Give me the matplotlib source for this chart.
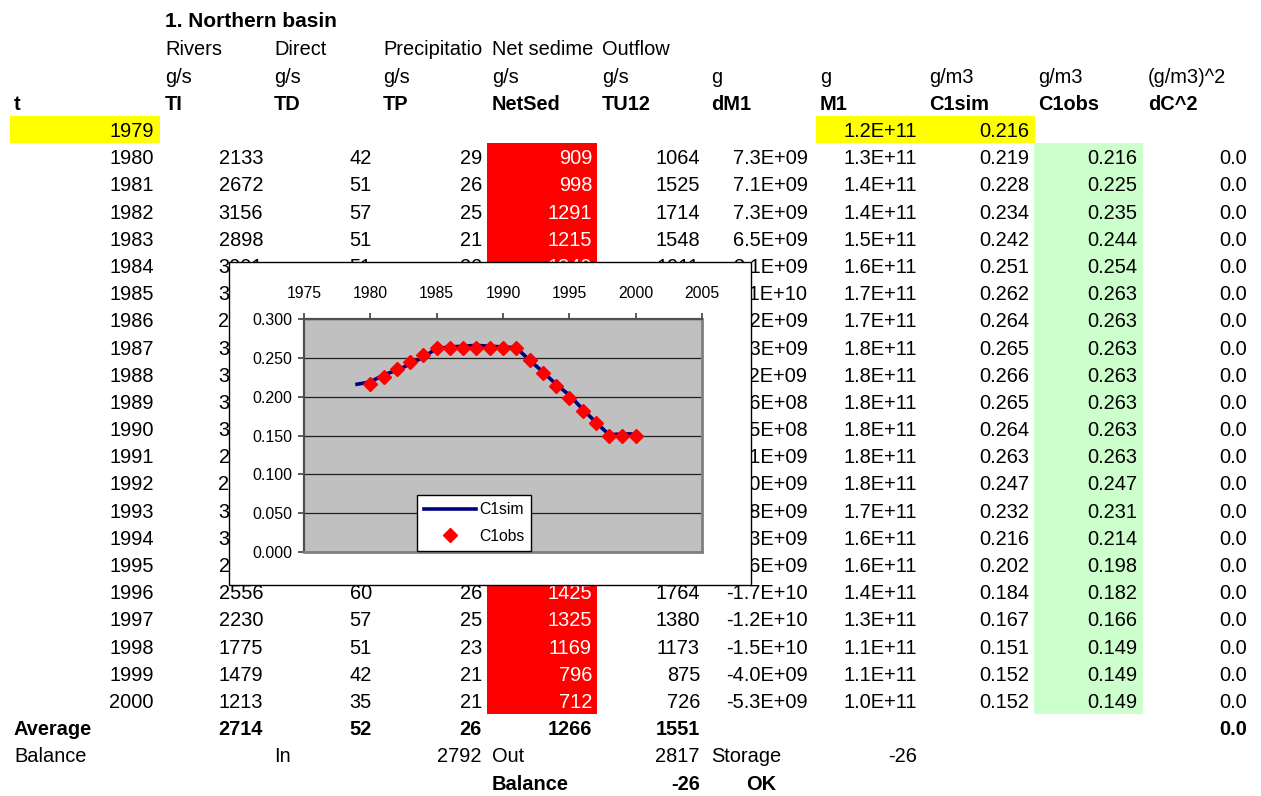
import matplotlib.pyplot as plt
from matplotlib.patches import Rectangle
from matplotlib.transforms import Bbox, TransformedBbox

plt.rcParams['font.family'] = ['Liberation Sans', 'DejaVu Sans']

# Northern basin mass balance, 1979-2000
years = list(range(1979, 2001))
TI = [2133, 2672, 3156, 2898, 3001, 3612, 2874, 3505, 3190, 3268, 3052,
      2799, 2641, 3187, 3096, 2657, 2556, 2230, 1775, 1479, 1213]
TD = [42, 51, 57, 51, 51, 55, 50, 56, 54, 57, 55, 52, 49, 58, 56, 53,
      60, 57, 51, 42, 35]
TP = [29, 26, 25, 21, 22, 28, 27, 30, 29, 28, 31, 27, 26, 29, 27, 25,
      26, 25, 23, 21, 21]
NetSed = [909, 998, 1291, 1215, 1349, 1452, 1338, 1490, 1415, 1463, 1387,
          1302, 1256, 1438, 1446, 1410, 1425, 1325, 1169, 796, 712]
TU12 = [1064, 1525, 1714, 1548, 1911, 1877, 1590, 1865, 1779, 1830, 1711,
        1524, 1426, 1741, 1828, 1720, 1764, 1380, 1173, 875, 726]
dM1 = [7.3e9, 7.1e9, 7.3e9, 6.5e9, 3.1e9, 1.1e10, 5.2e9, 2.3e9, 1.2e9,
       -4.6e8, -3.5e8, -2.1e9, -9.0e9, -8.8e9, -8.3e9, -7.6e9, -1.7e10,
       -1.2e10, -1.5e10, -4.0e9, -5.3e9]
M1 = [1.2e11, 1.3e11, 1.4e11, 1.4e11, 1.5e11, 1.6e11, 1.7e11, 1.7e11,
      1.8e11, 1.8e11, 1.8e11, 1.8e11, 1.8e11, 1.8e11, 1.7e11, 1.6e11,
      1.6e11, 1.4e11, 1.3e11, 1.1e11, 1.1e11, 1.0e11]
C1sim = [0.216, 0.219, 0.228, 0.234, 0.242, 0.251, 0.262, 0.264, 0.265,
         0.266, 0.265, 0.264, 0.263, 0.247, 0.232, 0.216, 0.202, 0.184,
         0.167, 0.151, 0.152, 0.152]
C1obs = [0.216, 0.225, 0.235, 0.244, 0.254, 0.263, 0.263, 0.263, 0.263,
         0.263, 0.263, 0.263, 0.247, 0.231, 0.214, 0.198, 0.182, 0.166,
         0.149, 0.149, 0.149]

bal_in = 2792
bal_out = 2817
storage = -26
balance = -26

W, H = 1261, 796
fig = plt.figure(figsize=(W / 100, H / 100), dpi=100)

# sheet layer in pixel coordinates
ax = fig.add_axes([0, 0, 1, 1])
ax.set_xlim(0, W)
ax.set_ylim(H, 0)
ax.axis('off')

FS = 14.4
ROW_H = 27.19


def base(i):
    return 137 + ROW_H * (i - 4)


def cell(x, i, s, ha='right', bold=False, color='black', clip=None, fs=FS):
    t = ax.text(x, base(i), s, ha=ha, va='baseline', fontsize=fs,
                fontweight='bold' if bold else 'normal', color=color)
    if clip is not None:
        bb = Bbox([[clip[0], base(i) - 22], [clip[1], base(i) + 6]])
        t.set_clip_box(TransformedBbox(bb, ax.transData))
        t.set_clip_on(True)
    return t


def fill(x0, x1, i0, i1, color):
    y0 = base(i0) - 21
    y1 = base(i1) + 6
    ax.add_patch(Rectangle((x0, y0), x1 - x0, y1 - y0, facecolor=color,
                           edgecolor='none', zorder=0))


# cell fills
fill(10, 160, 4, 4, '#FFFF00')
fill(816, 1035, 4, 4, '#FFFF00')
fill(487, 597, 5, 25, '#FF0000')
fill(1034, 1143, 5, 25, '#CCFFCC')

# column anchors
right = [154, 263, 372, 482, 592, 700, 808, 917, 1029, 1137, 1247]
left = [14, 165, 274, 383, 492, 602, 711, 820, 929, 1038, 1148]

ax.text(165, 27, '1. Northern basin', ha='left', va='baseline',
        fontsize=15, fontweight='bold')

cell(left[1], 1, 'Rivers', ha='left')
cell(left[2], 1, 'Direct', ha='left')
cell(left[3], 1, 'Precipitatio', ha='left', clip=(380, 487))
cell(left[4], 1, 'Net sedime', ha='left', clip=(487, 597))
cell(left[5], 1, 'Outflow', ha='left')

units = ['g/s', 'g/s', 'g/s', 'g/s', 'g/s', 'g', 'g', 'g/m3', 'g/m3',
         '(g/m3)^2']
for k, u in enumerate(units):
    cell(left[k + 1], 2, u, ha='left')

names = ['t', 'TI', 'TD', 'TP', 'NetSed', 'TU12', 'dM1', 'M1', 'C1sim',
         'C1obs', 'dC^2']
for k, n in enumerate(names):
    cell(left[k], 3, n, ha='left', bold=True)

# first year: initial mass and concentration
cell(right[0], 4, str(years[0]))
cell(right[7], 4, f'{M1[0]:.1E}')
cell(right[8], 4, f'{C1sim[0]:.3f}')

for j in range(len(TI)):
    i = 5 + j
    cell(right[0], i, str(years[j + 1]))
    cell(right[1], i, str(TI[j]))
    cell(right[2], i, str(TD[j]))
    cell(right[3], i, str(TP[j]))
    cell(right[4], i, str(NetSed[j]), color='white')
    cell(right[5], i, str(TU12[j]))
    cell(right[6], i, f'{dM1[j]:.1E}')
    cell(right[7], i, f'{M1[j + 1]:.1E}')
    cell(right[8], i, f'{C1sim[j + 1]:.3f}')
    cell(right[9], i, f'{C1obs[j]:.3f}')
    cell(right[10], i, f'{(C1sim[j + 1] - C1obs[j]) ** 2:.1f}')

n = len(TI)
dc2 = [(C1sim[j + 1] - C1obs[j]) ** 2 for j in range(n)]
cell(left[0], 26, 'Average', ha='left', bold=True)
for k, col in enumerate([TI, TD, TP, NetSed, TU12]):
    cell(right[k + 1], 26, f'{sum(col) / n:.0f}', bold=True)
cell(right[10], 26, f'{sum(dc2) / n:.1f}', bold=True)

cell(left[0], 27, 'Balance', ha='left')
cell(left[2], 27, 'In', ha='left')
cell(right[3], 27, str(bal_in))
cell(left[4], 27, 'Out', ha='left')
cell(right[5], 27, str(bal_out))
cell(left[6], 27, 'Storage', ha='left')
cell(right[7], 27, str(storage))

cell(left[4], 28, 'Balance', ha='left', bold=True)
cell(right[5], 28, str(balance), bold=True)
cell(761, 28, 'OK', ha='center', bold=True)

# embedded chart frame
ax.add_patch(Rectangle((229, 262), 522, 323, facecolor='white',
                       edgecolor='black', lw=1, zorder=10))

# chart plot area
px0, px1, py0, py1 = 304, 702, 319, 552
cax = fig.add_axes([px0 / W, (H - py1) / H, (px1 - px0) / W, (py1 - py0) / H])
cax.set_facecolor('#C0C0C0')
cax.set_xlim(1975, 2005)
cax.set_ylim(0, 0.3)
cax.set_xticks(range(1975, 2006, 5))
cax.set_yticks([0, 0.05, 0.1, 0.15, 0.2, 0.25, 0.3])
cax.set_yticklabels([f'{v:.3f}' for v in cax.get_yticks()])
cax.xaxis.tick_top()
cax.tick_params(axis='x', direction='out', length=4, width=1.2,
                color='#404040', labelsize=11.3, pad=9)
cax.tick_params(axis='y', direction='out', length=4.5, width=1.2,
                color='#404040', labelsize=11.5, pad=4)
cax.set_axisbelow(True)
cax.yaxis.grid(True, color='#202020', lw=0.9)
for s in ['left', 'top']:
    cax.spines[s].set_color('#505050')
    cax.spines[s].set_linewidth(1.6)
for s in ['right', 'bottom']:
    cax.spines[s].set_color('#808080')
    cax.spines[s].set_linewidth(2)

cax.plot(years, C1sim, color='#000080', lw=2.6, label='C1sim', zorder=3)
cax.plot(years[1:], C1obs, linestyle='none', marker='D', markersize=7.5,
         color='#FF0000', label='C1obs', zorder=4)

leg = cax.legend(loc='lower left', bbox_to_anchor=(417 / W, (H - 551) / H),
                 bbox_transform=fig.transFigure, borderaxespad=0,
                 fancybox=False, fontsize=11.3, handlelength=3.3,
                 handletextpad=0.2, borderpad=0.45, labelspacing=0.75,
                 numpoints=1, framealpha=1)
leg.get_frame().set_edgecolor('black')
leg.get_frame().set_linewidth(1)

fig.savefig('out.png', dpi=100)
